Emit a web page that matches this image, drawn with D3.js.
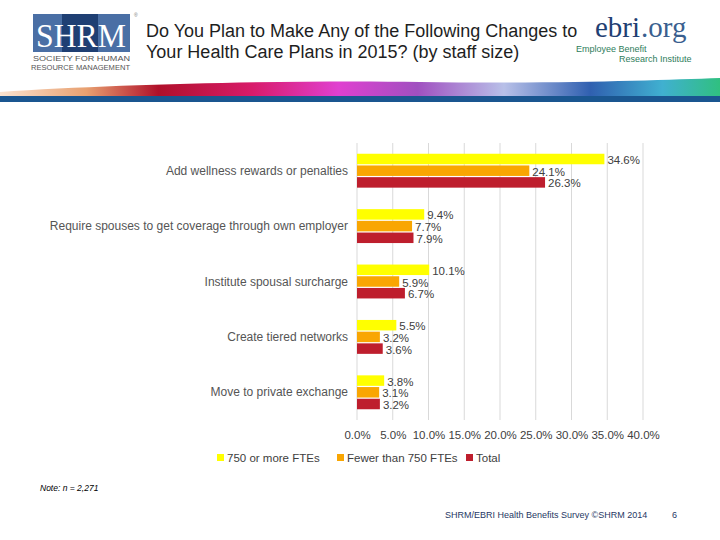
<!DOCTYPE html>
<html><head><meta charset="utf-8">
<script src="https://cdn.jsdelivr.net/npm/d3@7/dist/d3.min.js"></script>
<style>body{margin:0;background:#fff;}svg{display:block;font-family:"Liberation Sans",Arial,sans-serif;}</style>
</head><body>
<script>
const categories = ["Add wellness rewards or penalties","Require spouses to get coverage through own employer","Institute spousal surcharge","Create tiered networks","Move to private exchange"];
const seriesNames = ["750 or more FTEs","Fewer than 750 FTEs","Total"];
const large = [34.6, 9.4, 10.1, 5.5, 3.8];
const small = [24.1, 7.7, 5.9, 3.2, 3.1];
const total = [26.3, 7.9, 6.7, 3.6, 3.2];
const ticks = [0,5,10,15,20,25,30,35,40];
const colors = ["#ffff00","#f9a602","#be1e2d"];
const seriesVals = [large, small, total];

const W=720,H=540;
const svg=d3.select("body").append("svg").attr("width",W).attr("height",H);

// header
const defs=svg.append("defs");
const g1=defs.append("linearGradient").attr("id","rb").attr("x1","0").attr("x2","1");
[["0","#fbe3d0"],["0.12","#e8a070"],["0.22","#b0102a"],["0.35","#d81b6a"],["0.47","#e040d0"],["0.58","#a050c0"],["0.7","#b8c0e8"],["0.82","#3060b0"],["0.92","#40b0d0"],["1","#30c080"]].forEach(s=>g1.append("stop").attr("offset",s[0]).attr("stop-color",s[1]));
svg.append("path").attr("d","M0,96 L0,92 C120,84 300,80 420,82 C560,84 660,80 720,78 L720,96 Z").attr("fill","url(#rb)");
svg.append("rect").attr("x",0).attr("y",96).attr("width",720).attr("height",6).attr("fill","#1a5690");

// title
svg.append("text").attr("x",146).attr("y",37).attr("font-size",18).attr("fill","#1e1e1e").text("Do You Plan to Make Any of the Following Changes to");
svg.append("text").attr("x",146).attr("y",58).attr("font-size",18).attr("fill","#1e1e1e").text("Your Health Care Plans in 2015? (by staff size)");

// SHRM logo
svg.append("rect").attr("x",33).attr("y",14).attr("width",97).attr("height",38).attr("fill","#4a6fa5");
svg.append("rect").attr("x",62).attr("y",14).attr("width",36).attr("height",38).attr("fill","#1f3f73");
svg.append("text").attr("x",81).attr("y",47).attr("text-anchor","middle").attr("font-family","Liberation Serif,serif").attr("font-size",34).attr("fill","#fff").attr("textLength",90).attr("lengthAdjust","spacingAndGlyphs").text("SHRM");
svg.append("text").attr("x",134).attr("y",17).attr("font-size",5).attr("fill","#777").text("®");
svg.append("text").attr("x",33).attr("y",61).attr("font-size",7.5).attr("fill","#555").attr("textLength",97).attr("lengthAdjust","spacingAndGlyphs").text("SOCIETY FOR HUMAN");
svg.append("text").attr("x",31).attr("y",70).attr("font-size",7.5).attr("fill","#555").attr("textLength",99).attr("lengthAdjust","spacingAndGlyphs").text("RESOURCE MANAGEMENT");

// ebri logo
svg.append("rect").attr("x",586).attr("y",12).attr("width",130).attr("height",58).attr("fill","#fff");
svg.append("text").attr("x",595).attr("y",37).attr("font-family","Liberation Serif,serif").attr("font-size",29).attr("fill","#1f3f73").text("ebri");
svg.append("text").attr("x",641).attr("y",37).attr("font-family","Liberation Serif,serif").attr("font-size",29).attr("fill","#3a5f8f").text(".org");
svg.append("text").attr("x",576).attr("y",52).attr("font-size",9).attr("fill","#2e7d5b").text("Employee Benefit");
svg.append("text").attr("x",619).attr("y",62).attr("font-size",9).attr("fill","#2e7d5b").text("Research Institute");

// chart
const x0=357, x1=643, yTop=143, yBot=420;
const x=d3.scaleLinear().domain([0,40]).range([x0,x1]);
const y=d3.scaleBand().domain(categories).range([yTop,yBot]);
const bh=10.5, gap=1.2;

svg.append("g").selectAll("line").data(ticks).join("line")
  .attr("x1",d=>x(d)).attr("x2",d=>x(d)).attr("y1",yTop).attr("y2",yBot)
  .attr("stroke","#d9d9d9").attr("stroke-width",1);

const axis=d3.axisBottom(x).tickValues(ticks).tickFormat(d=>d.toFixed(1)+"%").tickSize(0).tickPadding(0);
const ag=svg.append("g").attr("transform",`translate(0,${yBot+11})`).call(axis);
ag.select(".domain").remove();
ag.selectAll("text").attr("font-size",11.5).attr("fill","#404040").attr("font-family","Liberation Sans,Arial,sans-serif");

svg.append("g").selectAll("text").data(categories).join("text")
  .attr("x",348).attr("y",d=>y(d)+y.bandwidth()/2+4).attr("text-anchor","end")
  .attr("font-size",12).attr("fill","#555").text(d=>d);

seriesVals.forEach((vals,si)=>{
  const off=(si-1)*(bh+gap)-bh/2;
  const gg=svg.append("g");
  gg.selectAll("rect").data(vals).join("rect")
    .attr("x",x(0)).attr("y",(d,i)=>y(categories[i])+y.bandwidth()/2+off)
    .attr("width",d=>x(d)-x(0)).attr("height",bh).attr("fill",colors[si]);
  gg.selectAll("text").data(vals).join("text")
    .attr("x",d=>x(d)+3).attr("y",(d,i)=>y(categories[i])+y.bandwidth()/2+off+bh/2+5)
    .attr("font-size",11.5).attr("fill","#404040").text(d=>d.toFixed(1)+"%");
});

// legend
const legX=[217,337,466];
const lg=svg.append("g");
seriesNames.forEach((n,i)=>{
  lg.append("rect").attr("x",legX[i]).attr("y",454).attr("width",7).attr("height",7).attr("fill",colors[i]);
  lg.append("text").attr("x",legX[i]+10).attr("y",462).attr("font-size",11.5).attr("fill","#404040").text(n);
});

svg.append("text").attr("x",40).attr("y",491).attr("font-size",8.5).attr("font-style","italic").attr("fill","#000").text("Note: n = 2,271");
svg.append("text").attr("x",445).attr("y",518).attr("font-size",9).attr("fill","#1f3864").text("SHRM/EBRI Health Benefits Survey ©SHRM 2014");
svg.append("text").attr("x",672).attr("y",518).attr("font-size",9).attr("fill","#1f3864").text("6");
</script>
</body></html>
